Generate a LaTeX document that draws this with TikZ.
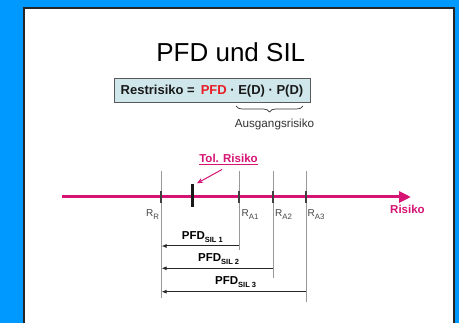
\documentclass[tikz,border=0pt]{standalone}
\usepackage{fontspec}
\setmainfont{Liberation Sans}
\usetikzlibrary{arrows.meta,decorations.pathreplacing}
\definecolor{bgblue}{RGB}{0,153,255}
\definecolor{mag}{RGB}{214,20,116}
\definecolor{boxfill}{RGB}{207,231,235}
\definecolor{pfdred}{RGB}{232,28,36}
\definecolor{txtgray}{RGB}{70,70,70}
\newcommand{\Rsub}[1]{R\raisebox{-0.28em}{\fontsize{7.8}{8}\selectfont #1}}
\newcommand{\PFDsub}[1]{PFD\raisebox{-0.25em}{\fontsize{7.5}{8}\selectfont SIL #1}}
\tikzset{
  panel/.style={draw=black!85, line width=2pt, fill=white},
  guide/.style={draw=black!40, line width=0.6pt},
  tickmark/.style={draw=black!75, line width=1.2pt},
  rlabel/.style={anchor=base west, inner sep=0pt, text=txtgray, font=\fontsize{10}{11}\selectfont},
  pfdlabel/.style={anchor=base west, inner sep=0pt, font=\bfseries\fontsize{11.5}{13}\selectfont},
  pfdarrow/.style={draw=black!85, line width=1pt, {Latex[length=5pt,width=4pt]}-},
  maglabel/.style={inner sep=0pt, text=mag, font=\bfseries\fontsize{11.5}{13}\selectfont}
}
\begin{document}
\begin{tikzpicture}[x=1pt,y=-1pt]
\useasboundingbox (0,0) rectangle (459,323);
\clip (0,0) rectangle (459,323);
\fill[bgblue] (0,0) rectangle (459,323);
\draw[panel] (24,8) rectangle (454,345);

% title
\node[anchor=base, inner sep=0pt, font=\fontsize{26}{30}\selectfont] (title) at (230.8,61.7) {PFD und SIL};

% formula box
\node[draw=black!65, fill=boxfill, line width=1pt, minimum width=196pt, minimum height=24pt, inner sep=0pt,
      font=\bfseries\fontsize{13}{15}\selectfont, text=black!90] (formula) at (212,91)
  {Restrisiko =\hspace{6pt}\textcolor{pfdred}{PFD} · E(D) · P(D)};

% brace
\coordinate (braceL) at (236,106);
\coordinate (braceR) at (303,106);
\draw[black!80, line width=0.7pt, decorate, decoration={brace, amplitude=6pt, mirror}] (braceL) -- (braceR);
\node[anchor=base, inner sep=0pt, text=black!80, font=\fontsize{11.7}{13}\selectfont] (ausg) at (274.5,127.3) {Ausgangsrisiko};

% guide lines
\coordinate (gRt) at (161,171); \coordinate (gRb) at (161,298);
\coordinate (g1t) at (239,171); \coordinate (g1b) at (239,250);
\coordinate (g2t) at (273,171); \coordinate (g2b) at (273,278);
\coordinate (g3t) at (306,171); \coordinate (g3b) at (306,302);
\draw[guide] (gRt) -- (gRb);
\draw[guide] (g1t) -- (g1b);
\draw[guide] (g2t) -- (g2b);
\draw[guide] (g3t) -- (g3b);

% axis
\coordinate (axisL) at (62,197);
\coordinate (axisR) at (411,197);
\draw[mag, line width=3pt, -{Triangle[length=12pt,width=11pt]}] (axisL) -- (axisR);

% ticks
\foreach \x/\n in {161/tR,239/t1,273/t2,306/t3} {
  \coordinate (\n a) at (\x,191.5);
  \coordinate (\n b) at (\x,203);
  \draw[tickmark] (\n a) -- (\n b);
}
\coordinate (tolT) at (192.7,184);
\coordinate (tolB) at (192.7,207);
\draw[black!90, line width=2.6pt] (tolT) -- (tolB);

% Tol. Risiko
\node[maglabel, anchor=base] (tol) at (228.5,163) {\underline{Tol. Risiko}};
\coordinate (tolA) at (222,169.5);
\coordinate (tolE) at (197,183.3);
\draw[mag, line width=1pt, -{Stealth[length=6pt,width=5pt]}] (tolA) -- (tolE);

% R labels
\node[rlabel] (rR) at (146,217) {\Rsub{R}};
\node[rlabel] (r1) at (241.5,217) {\Rsub{A1}};
\node[rlabel] (r2) at (275,217) {\Rsub{A2}};
\node[rlabel] (r3) at (307.5,217) {\Rsub{A3}};
\node[maglabel, anchor=base] (risiko) at (407.5,214) {Risiko};

% PFD arrows
\coordinate (a1s) at (161.5,246); \coordinate (a1e) at (239,246);
\coordinate (a2s) at (161.5,268.3); \coordinate (a2e) at (273,268.3);
\coordinate (a3s) at (161.5,291.7); \coordinate (a3e) at (306,291.7);
\draw[pfdarrow] (a1s) -- (a1e);
\draw[pfdarrow] (a2s) -- (a2e);
\draw[pfdarrow] (a3s) -- (a3e);
\node[pfdlabel] (p1) at (181.7,240) {\PFDsub{1}};
\node[pfdlabel] (p2) at (198,261.7) {\PFDsub{2}};
\node[pfdlabel] (p3) at (215,284.3) {\PFDsub{3}};
\end{tikzpicture}
\end{document}
